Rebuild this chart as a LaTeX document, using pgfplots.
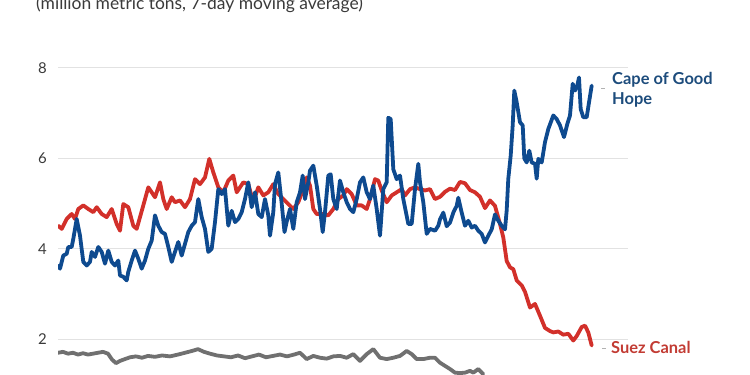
\documentclass[border=0pt]{standalone}
\usepackage{pgfplots}
\pgfplotsset{compat=1.18}
\usepackage{fontspec}
\setmainfont{Lato}
\definecolor{capeblue}{HTML}{0E4A8F}
\definecolor{capetext}{HTML}{1D4C7C}
\definecolor{suezred}{HTML}{D2302A}
\definecolor{sueztext}{HTML}{C23B33}
\definecolor{panama}{HTML}{707070}
\definecolor{gridc}{HTML}{E2E2E2}
\definecolor{ticktext}{HTML}{3A3A3A}
\begin{document}
\begin{tikzpicture}
\path[use as bounding box] (0,0) rectangle (750bp,375bp);
\clip (0,0) rectangle (750bp,375bp);
\begin{axis}[
  at={(58bp,0bp)}, anchor=south west,
  scale only axis, width=570bp, height=375bp,
  xmin=58, xmax=628, ymin=1.208, ymax=9.504,
  axis line style={draw=none}, tick style={draw=none},
  xtick=\empty, ytick={2,4,6,8},
  ymajorgrids, grid style={gridc, line width=1bp},
  /pgf/number format/assume math mode=true,
  yticklabel style={anchor=east, font=\fontsize{15}{18}\selectfont, text=ticktext, inner sep=0pt, xshift=-11bp},
]
\addplot[panama, line width=3.8bp, line join=round, line cap=round] coordinates {
(58,1.70)(63,1.72)(68,1.68)(73,1.70)(78,1.66)(83,1.69)(88,1.66)(93,1.68)(98,1.70)(103,1.72)(108,1.68)(112,1.55)(116,1.47)(120,1.52)(125,1.56)(130,1.60)(136,1.62)(142,1.59)(148,1.63)(155,1.61)(162,1.64)(170,1.62)(178,1.66)(185,1.70)(192,1.74)(198,1.78)(204,1.72)(210,1.68)(217,1.64)(224,1.62)(231,1.60)(238,1.64)(245,1.58)(252,1.62)(259,1.66)(266,1.60)(273,1.63)(280,1.66)(287,1.62)(294,1.66)(300,1.70)(306.7,1.56)(313.3,1.63)(320,1.59)(326.7,1.57)(333.3,1.62)(340,1.63)(346.7,1.59)(353.3,1.67)(360,1.52)(366.7,1.67)(373.3,1.78)(380,1.59)(386.7,1.56)(393.3,1.59)(400,1.63)(406.7,1.74)(411.7,1.67)(416.7,1.56)(423.3,1.56)(430,1.59)(435,1.59)(440,1.48)(445,1.41)(450,1.34)(455,1.26)(460,1.25)(465,1.26)(470,1.30)(473.3,1.26)(478.3,1.34)(481.7,1.26)(483.3,1.23)
};
\addplot[suezred, line width=3.8bp, line join=round, line cap=round] coordinates {
(58.3,4.51)(61.7,4.44)(66.7,4.66)(71.7,4.77)(75,4.66)(78.3,4.88)(83.3,4.96)(88.3,4.88)(93.3,4.81)(96.7,4.92)(101.7,4.77)(106.7,4.70)(111.7,4.88)(116.7,4.55)(120,4.40)(123.3,4.99)(128.3,4.92)(133.3,4.51)(136.7,4.44)(140,4.70)(143.3,4.96)(148.3,5.36)(151.7,5.25)(155,5.14)(160,5.47)(163.3,5.10)(166.7,4.88)(171.7,5.14)(175,5.03)(180,5.07)(185,4.92)(190,5.10)(195,5.54)(200,5.43)(205,5.58)(209.3,5.99)(213.3,5.69)(218.3,5.36)(223.3,5.25)(228.3,5.51)(233.3,5.62)(236.7,5.25)(240,5.36)(243.3,5.47)(248.3,5.43)(253.3,5.03)(258.3,5.36)(263.3,5.18)(268.3,5.25)(273.3,5.43)(278.3,5.21)(283.3,5.10)(288.3,4.99)(293.3,4.88)(298.3,5.03)(303.3,5.32)(306.7,5.58)(310,5.40)(313.3,4.88)(316.7,4.77)(323.3,4.77)(328.3,4.74)(333.3,4.88)(338.3,5.10)(343.3,5.18)(346.7,5.32)(351.7,5.21)(356.7,4.96)(361.7,4.96)(366.7,4.88)(370,5.10)(375,5.54)(378.3,5.51)(381.7,5.29)(386.7,5.03)(391.7,5.18)(396.7,5.25)(401.7,5.32)(405,5.18)(410,5.32)(415,5.36)(420,5.32)(425,5.29)(430,5.32)(435,5.10)(440,5.15)(445,5.26)(450,5.33)(455,5.30)(460,5.48)(465,5.45)(470,5.30)(475,5.25)(480,5.15)(485,4.90)(490,5.07)(495,4.95)(500,4.55)(503.3,4.25)(506.7,3.73)(510,3.59)(513.3,3.55)(516.7,3.30)(521.7,3.19)(525,3.05)(530,2.70)(535,2.78)(540,2.52)(545,2.25)(550,2.18)(553.3,2.15)(558.3,2.17)(563.3,2.10)(568.3,2.12)(573.3,1.97)(576.7,2.07)(581.7,2.27)(585,2.30)(588.3,2.15)(591.7,1.86)
};
\addplot[capeblue, line width=3.8bp, line join=round, line cap=round] coordinates {
(58.3,3.63)(60,3.56)(63.3,3.85)(66.7,3.89)(68.3,4.04)(71.7,4.04)(73.3,4.22)(76.7,4.66)(80,4.29)(83.3,3.71)(86.7,3.63)(90,3.71)(91.7,3.93)(95,3.82)(98.3,4.04)(101.7,3.93)(105,3.67)(108.3,3.96)(111.7,3.71)(115,3.63)(118.3,3.74)(120,3.41)(123.3,3.38)(126.7,3.30)(128.3,3.49)(131.7,3.74)(135,3.96)(138.3,3.78)(141.7,3.56)(145,3.74)(148.3,4.00)(151.7,4.18)(155,4.74)(158.3,4.51)(161.7,4.37)(165,4.33)(168.3,4.04)(171.7,3.71)(175,3.93)(178.3,4.15)(181.7,3.85)(185,4.11)(188.3,4.37)(191.7,4.51)(195,4.59)(198.3,5.10)(201.7,4.70)(205,4.44)(208.3,3.93)(211.7,4.00)(215,4.59)(218.3,5.32)(221.7,5.21)(225,5.32)(228.3,4.51)(231.7,4.84)(235,4.59)(238.3,4.66)(241.7,4.81)(245,5.10)(248.3,5.47)(251.7,4.92)(255,5.25)(258.3,4.77)(261.7,4.70)(265,5.10)(268.3,4.74)(270,4.29)(273.3,4.81)(275,5.43)(278.3,5.69)(281.7,5.00)(284.5,4.37)(286.7,4.60)(290,4.88)(293.3,4.44)(296.7,5.03)(300,5.25)(302.7,5.62)(305,5.10)(308.3,5.47)(310,5.73)(313.3,5.84)(316.7,5.40)(320,4.88)(322.7,4.37)(325,4.81)(328.3,5.62)(330.7,5.65)(333.3,5.10)(336.7,4.88)(340,5.51)(343.3,5.25)(346.7,5.03)(350,4.88)(353.3,4.81)(356.7,5.10)(360,5.47)(363.3,5.58)(366.7,5.25)(370,5.10)(373.3,5.40)(376.7,4.88)(380,4.29)(383.3,5.32)(386.7,5.47)(388.3,6.90)(390.7,6.87)(393.3,5.76)(396.7,5.54)(400,5.62)(403.3,5.10)(408.3,4.55)(411.7,4.55)(415,5.32)(418.3,5.88)(420,5.47)(423.3,5.03)(426.7,4.33)(430,4.44)(435,4.40)(438.3,4.51)(440,4.65)(443.3,4.80)(446.7,4.50)(450,4.58)(453.3,4.80)(456.7,4.95)(458.3,5.13)(461.7,4.80)(465,4.51)(468.3,4.62)(471.7,4.47)(475,4.51)(478.3,4.40)(481.7,4.33)(485,4.14)(488.3,4.29)(491.7,4.43)(495,4.76)(498.3,4.62)(501.7,4.51)(505,4.43)(506.7,4.85)(508.3,5.55)(510.7,6.06)(512.7,6.73)(514.3,7.50)(516.7,7.24)(520,6.80)(522.7,6.73)(524.3,6.00)(526.7,5.91)(529.3,6.17)(531.7,5.91)(535,5.88)(536.7,5.55)(538.3,5.99)(541.7,5.91)(545,6.36)(548.3,6.65)(553.3,6.95)(556.7,6.87)(560,6.73)(564,6.47)(567.3,6.76)(570,6.95)(572.7,7.65)(575,7.50)(577.3,7.61)(579,7.79)(580.7,7.09)(583.3,6.91)(586.7,6.91)(589.3,7.28)(591.7,7.61)
};
\end{axis}
\node[anchor=base west, font=\fontsize{17.5}{21}\selectfont, text=ticktext, inner sep=0pt] at (36bp,365bp) {(million metric tons, 7-day moving average)};
\draw[gray!60, line width=0.8bp] (601bp,287bp) -- (605bp,287bp);
\draw[gray!60, line width=0.8bp] (602bp,27bp) -- (606bp,27bp);
\node[anchor=base west, inner sep=0pt, font=\bfseries\fontsize{16.5}{21}\selectfont, text=capetext] at (612bp,290bp) {Cape of Good};
\node[anchor=base west, inner sep=0pt, font=\bfseries\fontsize{16.5}{21}\selectfont, text=capetext] at (612bp,270bp) {Hope};
\node[anchor=base west, inner sep=0pt, font=\bfseries\fontsize{16.5}{21}\selectfont, text=sueztext] at (611bp,22bp) {Suez Canal};
\end{tikzpicture}
\end{document}
